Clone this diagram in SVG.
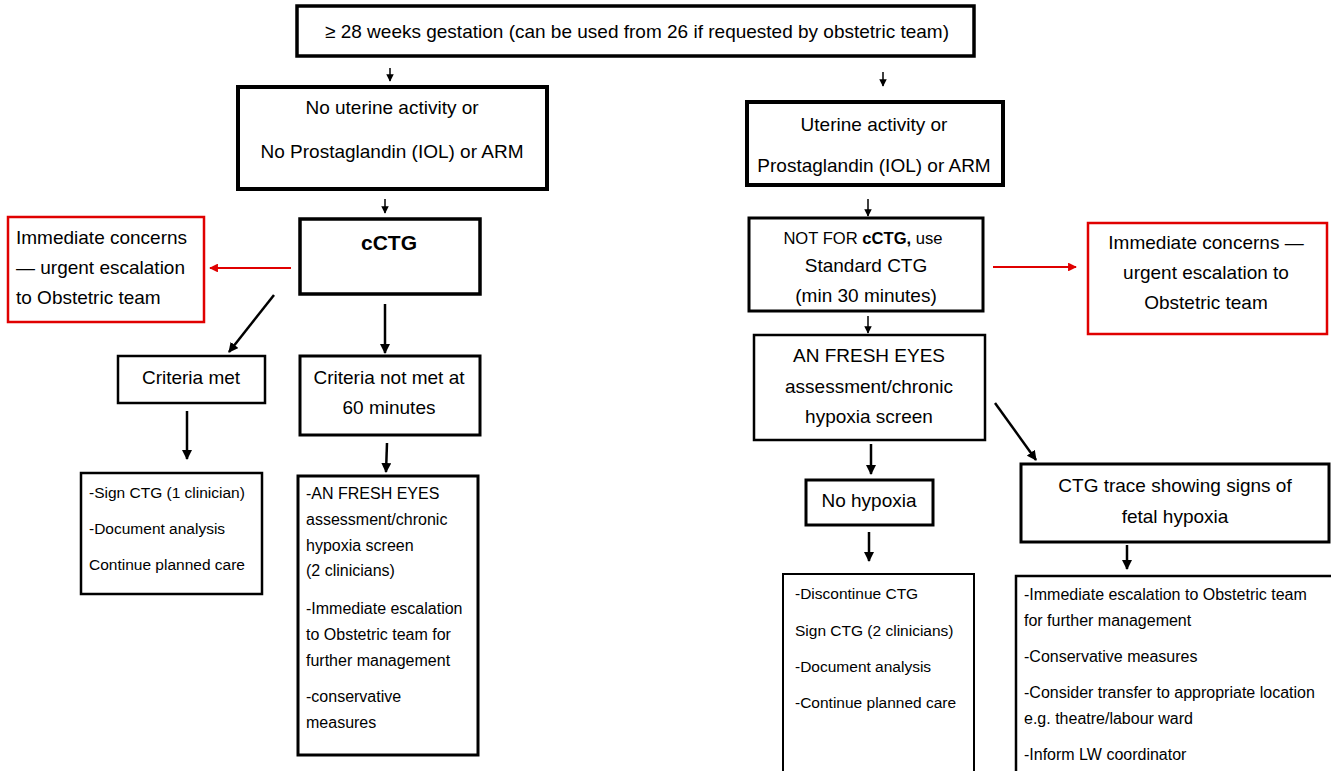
<svg xmlns="http://www.w3.org/2000/svg" width="1331" height="771" viewBox="0 0 1331 771">
  <style>
    text { font-family: "Liberation Sans", Arial, sans-serif; font-size: 19px; fill: #000; }
    .c { text-anchor: middle; }
    .li { font-size: 16px; }
    .lis { font-size: 15.5px; }
    .big { font-size: 21px; font-weight: bold; }
    .box { fill: #fff; stroke: #000; }
    .red { fill: #fff; stroke: #e00000; stroke-width: 2.5; }
    .ln { stroke: #000; stroke-width: 2.5; fill: none; }
    .sm { stroke: #000; stroke-width: 1.5; fill: none; }
    .rl { stroke: #e00000; stroke-width: 2.2; fill: none; }
  </style>
  <defs>
    <marker id="ah" viewBox="0 0 10 10" refX="9" refY="5" markerWidth="4" markerHeight="4" orient="auto" markerUnits="strokeWidth">
      <path d="M0,0 L10,5 L0,10 z" fill="#000"/>
    </marker>
    <marker id="ahs" viewBox="0 0 10 10" refX="9" refY="5" markerWidth="5" markerHeight="5" orient="auto" markerUnits="strokeWidth">
      <path d="M0,0 L10,5 L0,10 z" fill="#000"/>
    </marker>
    <marker id="ahr" viewBox="0 0 10 10" refX="9" refY="5" markerWidth="4" markerHeight="4" orient="auto" markerUnits="strokeWidth">
      <path d="M0,0 L10,5 L0,10 z" fill="#e00000"/>
    </marker>
  </defs>

  <!-- connectors -->
  <g id="connectors">
    <line class="sm" x1="390" y1="68" x2="390" y2="81" marker-end="url(#ahs)"/>
    <line class="sm" x1="883" y1="72" x2="883" y2="86" marker-end="url(#ahs)"/>
    <line class="sm" x1="385" y1="199" x2="385" y2="213" marker-end="url(#ahs)"/>
    <line class="sm" x1="868" y1="199" x2="868" y2="216" marker-end="url(#ahs)"/>
    <line class="sm" x1="868" y1="316" x2="868" y2="333" marker-end="url(#ahs)"/>
    <line class="rl" x1="291" y1="268" x2="210" y2="268" marker-end="url(#ahr)"/>
    <line class="rl" x1="993" y1="267" x2="1076" y2="267" marker-end="url(#ahr)"/>
    <line class="ln" x1="274" y1="295" x2="229" y2="352" marker-end="url(#ah)"/>
    <line class="ln" x1="385" y1="304" x2="385" y2="353" marker-end="url(#ah)"/>
    <line class="ln" x1="187" y1="411" x2="187" y2="459" marker-end="url(#ah)"/>
    <line class="ln" x1="387" y1="443" x2="386" y2="472" marker-end="url(#ah)"/>
    <line class="ln" x1="871" y1="444" x2="871" y2="474" marker-end="url(#ah)"/>
    <line class="ln" x1="995" y1="403" x2="1036" y2="460" marker-end="url(#ah)"/>
    <line class="ln" x1="869" y1="532" x2="869" y2="561" marker-end="url(#ah)"/>
    <line class="ln" x1="1127" y1="545" x2="1127" y2="569" marker-end="url(#ah)"/>
  </g>

  <g id="gestation">
    <rect class="box" x="297" y="6" width="677" height="50" stroke-width="3.5"/>
    <text class="c" x="637" y="38" font-size="19.4">≥ 28 weeks gestation (can be used from 26 if requested by obstetric team)</text>
  </g>

  <g id="no-uterine">
    <rect class="box" x="238" y="87" width="309" height="102" stroke-width="4"/>
    <text class="c" x="392" y="114">No uterine activity or</text>
    <text class="c" x="392" y="158">No Prostaglandin (IOL) or ARM</text>
  </g>

  <g id="uterine">
    <rect class="box" x="747" y="102" width="256" height="83" stroke-width="4"/>
    <text class="c" x="874" y="131">Uterine activity or</text>
    <text class="c" x="874" y="172">Prostaglandin (IOL) or ARM</text>
  </g>

  <g id="cctg">
    <rect class="box" x="300" y="219" width="180" height="75" stroke-width="3.5"/>
    <text class="c big" x="389" y="250">cCTG</text>
  </g>

  <g id="concerns-left">
    <rect class="red" x="8" y="217" width="196" height="105"/>
    <text x="16" y="244">Immediate concerns</text>
    <text x="16" y="274">— urgent escalation</text>
    <text x="16" y="304">to Obstetric team</text>
  </g>

  <g id="standard-ctg">
    <rect class="box" x="749" y="218" width="234" height="93" stroke-width="3"/>
    <text class="c" x="863" y="244"><tspan font-size="16.6">NOT FOR </tspan><tspan font-size="16.6" font-weight="bold">cCTG,</tspan><tspan font-size="16.6"> use</tspan></text>
    <text class="c" x="866" y="272">Standard CTG</text>
    <text class="c" x="866" y="302">(min 30 minutes)</text>
  </g>

  <g id="concerns-right">
    <rect class="red" x="1088" y="223" width="239" height="111"/>
    <text class="c" x="1206" y="249" font-size="18.5">Immediate concerns —</text>
    <text class="c" x="1206" y="279">urgent escalation to</text>
    <text class="c" x="1206" y="309">Obstetric team</text>
  </g>

  <g id="fresh-eyes-right">
    <rect class="box" x="754" y="335" width="231" height="105" stroke-width="2.5"/>
    <text class="c" x="869" y="362">AN FRESH EYES</text>
    <text class="c" x="869" y="393">assessment/chronic</text>
    <text class="c" x="869" y="423">hypoxia screen</text>
  </g>

  <g id="criteria-met">
    <rect class="box" x="118" y="356" width="147" height="47" stroke-width="2.5"/>
    <text class="c" x="191" y="384">Criteria met</text>
  </g>

  <g id="criteria-not-met">
    <rect class="box" x="300" y="356" width="180" height="79" stroke-width="3"/>
    <text class="c" x="389" y="384">Criteria not met at</text>
    <text class="c" x="389" y="414">60 minutes</text>
  </g>

  <g id="sign-ctg">
    <rect class="box" x="81" y="473" width="181" height="121" stroke-width="2.5"/>
    <text class="lis" x="89" y="498">-Sign CTG (1 clinician)</text>
    <text class="lis" x="89" y="534">-Document  analysis</text>
    <text class="lis" x="89" y="570">Continue planned care</text>
  </g>

  <g id="fresh-eyes-left">
    <rect class="box" x="298" y="476" width="180" height="279" stroke-width="3"/>
    <text class="li" x="306" y="499">-AN FRESH EYES</text>
    <text class="li" x="306" y="525">assessment/chronic</text>
    <text class="li" x="306" y="551">hypoxia screen</text>
    <text class="li" x="306" y="576">(2 clinicians)</text>
    <text class="li" x="306" y="614">-Immediate escalation</text>
    <text class="li" x="306" y="640">to Obstetric team for</text>
    <text class="li" x="306" y="666">further management</text>
    <text class="li" x="306" y="702">-conservative</text>
    <text class="li" x="306" y="728">measures</text>
  </g>

  <g id="no-hypoxia">
    <rect class="box" x="806" y="480" width="127" height="45" stroke-width="3"/>
    <text class="c" x="869" y="507">No hypoxia</text>
  </g>

  <g id="fetal-hypoxia">
    <rect class="box" x="1021" y="464" width="308" height="78" stroke-width="3"/>
    <text class="c" x="1175" y="492">CTG trace showing signs of</text>
    <text class="c" x="1175" y="523">fetal hypoxia</text>
  </g>

  <g id="discontinue">
    <rect class="box" x="783" y="574" width="191" height="200" stroke-width="2"/>
    <text class="lis" x="795" y="599">-Discontinue CTG</text>
    <text class="lis" x="795" y="636">Sign CTG (2 clinicians)</text>
    <text class="lis" x="795" y="672">-Document analysis</text>
    <text class="lis" x="795" y="708">-Continue planned care</text>
  </g>

  <g id="escalation">
    <rect class="box" x="1016" y="576" width="318" height="200" stroke-width="2.5"/>
    <text class="li" x="1024" y="600">-Immediate escalation to Obstetric team</text>
    <text class="li" x="1024" y="626">for further management</text>
    <text class="li" x="1024" y="662">-Conservative measures</text>
    <text class="li" x="1024" y="698">-Consider transfer to appropriate location</text>
    <text class="li" x="1024" y="724">e.g. theatre/labour ward</text>
    <text class="li" x="1024" y="760">-Inform LW coordinator</text>
  </g>
</svg>
